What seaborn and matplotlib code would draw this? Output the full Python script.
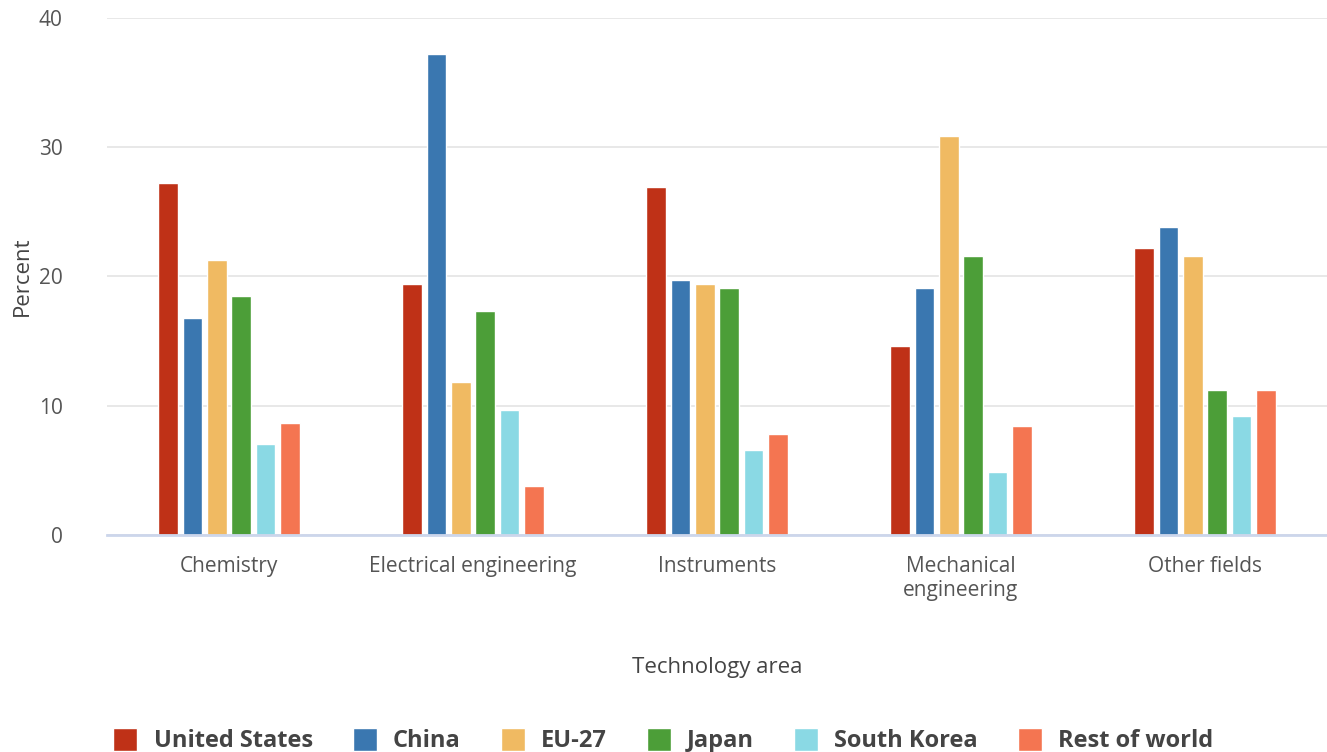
import pandas as pd
import seaborn as sns
import matplotlib.pyplot as plt
from matplotlib.patches import Patch

# datos
areas = ['Chemistry', 'Electrical engineering', 'Instruments', 'Mechanical\nengineering', 'Other fields']
regions = ['United States', 'China', 'EU-27', 'Japan', 'South Korea', 'Rest of world']
us = [27.2, 19.4, 26.9, 14.6, 22.2]
china = [16.8, 37.2, 19.7, 19.1, 23.8]
eu27 = [21.3, 11.8, 19.4, 30.9, 21.6]
japan = [18.5, 17.3, 19.1, 21.6, 11.2]
korea = [7.0, 9.7, 6.6, 4.9, 9.2]
rest = [8.7, 3.8, 7.8, 8.4, 11.2]
colors = ['#bf3117', '#3a77b0', '#f0ba62', '#4c9e38', '#8ad9e4', '#f47551']

rows = []
for region, vals in zip(regions, [us, china, eu27, japan, korea, rest]):
    for area, v in zip(areas, vals):
        rows.append({'area': area, 'region': region, 'value': v})
df = pd.DataFrame(rows)

sns.set_style('white')
plt.rcParams['font.family'] = ['Open Sans', 'DejaVu Sans']

fig = plt.figure(figsize=(13.27, 7.52), dpi=100)
ax = fig.add_axes([0.0806, 0.2886, 0.9194, 0.6875])

sns.barplot(data=df, x='area', y='value', hue='region', order=areas, hue_order=regions,
            palette=colors, width=0.6, gap=0.2, saturation=1, legend=False, ax=ax)

ax.set_ylim(0, 40)
ax.set_yticks([0, 10, 20, 30, 40])
ax.set_xlim(-0.5, 4.5)
ax.grid(axis='y', color='#e6e6e6', linewidth=1.3)
ax.set_axisbelow(True)
for s in ['top', 'right', 'left']:
    ax.spines[s].set_visible(False)
ax.spines['bottom'].set_color('#ccd6eb')
ax.spines['bottom'].set_linewidth(2)
ax.tick_params(axis='x', colors='#ccd6eb', length=10, width=1.5, labelcolor='#555555', labelsize=15, pad=5)
ax.tick_params(axis='y', length=0, labelcolor='#555555', labelsize=15, pad=32)

ax.set_xlabel('Technology area', fontsize=16, color='#444444', labelpad=40)
ax.set_ylabel('Percent', fontsize=16, color='#444444', labelpad=4)

handles = [Patch(facecolor=c, label=r) for c, r in zip(colors, regions)]
fig.legend(handles=handles, loc='lower center', bbox_to_anchor=(0.5, -0.03), ncol=6, frameon=False,
           prop={'weight': 'bold', 'size': 17}, labelcolor='#444444',
           handlelength=1.0, handleheight=1.1, handletextpad=0.7, columnspacing=1.7)

fig.savefig('out.png', dpi=100)
